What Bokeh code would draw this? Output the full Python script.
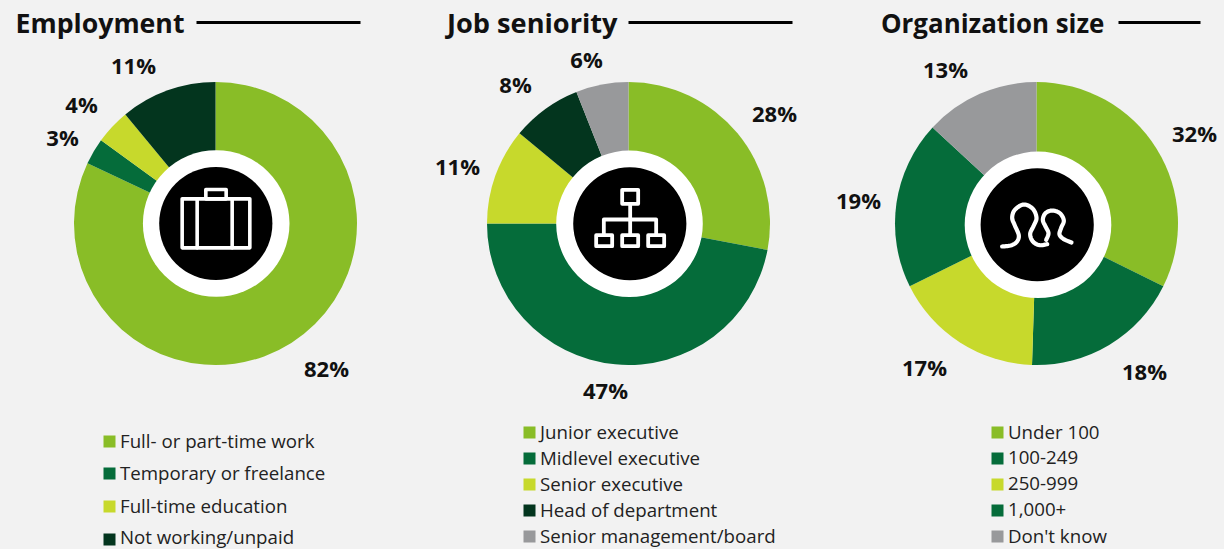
import math
from bokeh.plotting import figure
from bokeh.models import Range1d
from bokeh.core.properties import value
from bokeh.embed import file_html
from bokeh.resources import INLINE

W, H = 1224, 549
BG = "#f2f2f2"
FONT = "Open Sans"
LIGHT, DARK, LIME, DEEP, GREY = "#89BD27", "#056C3A", "#C7D92C", "#03351E", "#98999B"

employment_values = [82, 3, 4, 11]
employment_labels = ["Full- or part-time work", "Temporary or freelance", "Full-time education", "Not working/unpaid"]
employment_colors = [LIGHT, DARK, LIME, DEEP]

seniority_values = [28, 47, 11, 8, 6]
seniority_labels = ["Junior executive", "Midlevel executive", "Senior executive", "Head of department", "Senior management/board"]
seniority_colors = [LIGHT, DARK, LIME, DEEP, GREY]

orgsize_values = [32, 18, 17, 19, 13]
orgsize_labels = ["Under 100", "100-249", "250-999", "1,000+", "Don't know"]
orgsize_colors = [LIGHT, DARK, LIME, DARK, GREY]

panels = [
    dict(title="Employment", tx=15, ts="26.7px", rule=(196, 360), c=(215, 223), ring=(215.7, 223), core=(215.3, 223),
         values=employment_values, labels=employment_labels, colors=employment_colors,
         pct_pos=[(326, 367), (62, 136), (81, 103), (133, 64)],
         sq=103, lt=119.5, ly=[440, 472, 505, 536], sqy=[441, 473, 506, 539]),
    dict(title="Job seniority", tx=446.5, ts="27.2px", rule=(628, 792), c=(628, 223), ring=(629, 223.3), core=(629.3, 223.3),
         values=seniority_values, labels=seniority_labels, colors=seniority_colors,
         pct_pos=[(774, 112), (605, 389), (457, 165), (515, 83), (586, 58)],
         sq=523, lt=539.5, ly=[431, 457, 483, 509, 535], sqy=[432, 458, 484, 510, 536]),
    dict(title="Organization size", tx=880.5, ts="25.9px", rule=(1118, 1200), c=(1036, 223), ring=(1037.5, 224.3), core=(1036.7, 224.3),
         values=orgsize_values, labels=orgsize_labels, colors=orgsize_colors,
         pct_pos=[(1194, 132), (1144, 370), (924, 366), (858, 199), (945, 68)],
         sq=991, lt=1007.5, ly=[431, 457, 483, 509, 535], sqy=[432, 458, 484, 510, 536]),
]

p = figure(width=W, height=H, x_range=Range1d(0, W), y_range=Range1d(0, H),
           toolbar_location=None, output_backend="svg", min_border=0,
           background_fill_color=BG, border_fill_color=BG, outline_line_color=None)
p.axis.visible = False
p.grid.visible = False


def Y(y):
    return H - y


for pn in panels:
    total = sum(pn["values"])
    cum = 0
    cx, cy = pn["c"]
    starts, ends = [], []
    for v in pn["values"]:
        starts.append(math.pi / 2 - 2 * math.pi * (cum + v) / total)
        ends.append(math.pi / 2 - 2 * math.pi * cum / total)
        cum += v
    p.wedge(x=[cx] * len(starts), y=[Y(cy)] * len(starts), radius=141.5,
            start_angle=starts, end_angle=ends, fill_color=pn["colors"], line_color=None)
    p.circle(x=[pn["ring"][0]], y=[Y(pn["ring"][1])], radius=73.3, fill_color="white", line_color=None)
    p.circle(x=[pn["core"][0]], y=[Y(pn["core"][1])], radius=56.6, fill_color="black", line_color=None)

    p.text(x=[pn["tx"]], y=[Y(22)], text=[pn["title"]], text_font=value(FONT), text_font_style="bold",
           text_font_size=pn["ts"], text_color="#111111", text_baseline="middle", text_align="left")
    p.line(x=list(pn["rule"]), y=[Y(22), Y(22)], line_color="black", line_width=3)

    p.text(x=[a for a, _ in pn["pct_pos"]], y=[Y(b) for _, b in pn["pct_pos"]],
           text=[f"{v}%" for v in pn["values"]], text_font=value(FONT), text_font_style="bold",
           text_font_size="22px", text_color="#111111", text_align="center", text_baseline="middle")

    n = len(pn["labels"])
    p.rect(x=[pn["sq"] + 6] * n, y=[Y(v) for v in pn["sqy"]], width=12, height=12,
           fill_color=pn["colors"], line_color=None)
    p.text(x=[pn["lt"]] * n, y=[Y(v) for v in pn["ly"]], text=pn["labels"], text_font=value(FONT),
           text_font_size="18.7px", text_color="#222222", text_align="left", text_baseline="middle")


def smooth(path, steps=8):
    pts = [path[0]] + list(path) + [path[-1]]
    out = []
    for i in range(1, len(pts) - 2):
        p0, p1, p2, p3 = pts[i - 1], pts[i], pts[i + 1], pts[i + 2]
        for k in range(steps):
            t = k / steps
            out.append(tuple(
                0.5 * (2 * p1[j] + (p2[j] - p0[j]) * t + (2 * p0[j] - 5 * p1[j] + 4 * p2[j] - p3[j]) * t ** 2
                       + (3 * p1[j] - p0[j] - 3 * p2[j] + p3[j]) * t ** 3) for j in (0, 1)))
    out.append(path[-1])
    return out


def icon(ox, oy, paths, width=3.3):
    xs = [[ox + a / 3 for a, _ in path] for path in paths]
    ys = [[Y(oy + b / 3) for _, b in path] for path in paths]
    p.multi_line(xs=xs, ys=ys, line_color="white", line_width=width, line_join="round", line_cap="round")


def box(x0, y0, x1, y1):
    return [(x0, y0), (x1, y0), (x1, y1), (x0, y1), (x0, y0)]


icon(130, 140, [box(155, 175, 358, 322), box(226, 147, 287, 175), [(200, 175), (200, 322)], [(305, 175), (305, 322)]],
     width=3.6)
icon(545, 140, [box(230, 148, 278, 190), [(254, 190), (254, 282)], [(175, 282), (175, 237), (332, 237), (332, 282)],
                box(152, 284, 200, 317), box(230, 284, 278, 317), box(308, 284, 356, 317)], width=3.8)
icon(955, 140, [
    smooth([(140, 318), (165, 315), (183, 305), (190, 285), (178, 255), (170, 232), (178, 208), (205, 192),
            (232, 205), (243, 232), (235, 255), (224, 280), (232, 303), (252, 314), (275, 311)]),
    smooth([(272, 298), (279, 278), (270, 258), (262, 238), (270, 218), (290, 210), (313, 218), (325, 240), (317, 262),
            (312, 282), (325, 296), (348, 306)]),
], width=4.2)

html = file_html(p, INLINE)
html = html.replace("</head>", f"<style>html,body{{margin:0;padding:0;background:{BG};overflow:hidden}}</style></head>", 1)
open("out.html", "w").write(html)
